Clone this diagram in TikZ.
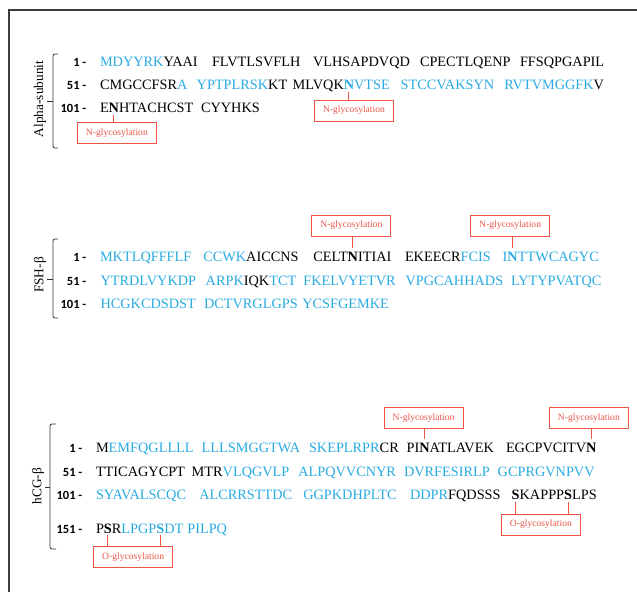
\documentclass[tikz,border=0pt]{standalone}
\usepackage{fontspec}
\setmainfont{Liberation Serif}
\newfontfamily\numfont{Carlito}
\usetikzlibrary{calc}
\definecolor{seqblue}{RGB}{41,171,226}
\definecolor{glycred}{RGB}{236,84,70}
\definecolor{framegray}{RGB}{60,60,60}
\newcommand\seqf{\fontsize{14.3}{17}\selectfont}
\tikzset{
  seq/.style={inner sep=0pt, outer sep=0pt, anchor=base west, font=\seqf},
  blu/.style={seq, text=seqblue},
  blk/.style={seq, text=black},
  bb/.style={font=\seqf\bfseries},
  nm/.style={inner sep=0pt, anchor=base east, font=\numfont\bfseries\fontsize{12.5}{14}\selectfont},
  glyc/.style={draw=glycred, line width=1pt, text=glycred, font=\fontsize{9.6}{11}\selectfont,
    minimum width=79pt, minimum height=21pt, inner sep=0pt},
  link/.style={draw=glycred, line width=1pt},
  grp/.style={inner sep=0pt, rotate=90, font=\fontsize{13.3}{15}\selectfont},
  brace/.style={draw=black!80, line width=0.8pt, rounded corners=2pt},
  frame/.style={draw=framegray, line width=1.3pt}
}
\begin{document}
\begin{tikzpicture}[x=1pt,y=-1pt]
\useasboundingbox (0,0) rectangle (637,592);
\draw[frame] (637,10) -- (9,10) -- (9,592);

% ---------------- Alpha subunit
\node[grp] (la) at (40,99) {Alpha-subunit};
\draw[brace] (58,54) -- (53,54) -- (53,148) -- (58,148);
\draw[brace] (53,101) -- (47,101);
\node[nm] (an1) at (86.5,66) {1 -};
\node[nm] (an2) at (86.5,89.5) {51 -};
\node[nm] (an3) at (86.5,112.5) {101 -};

\node[blu] (a1a) at (100,66) {MDYYRK};
\node[blk] (a1b) at (a1a.base east) {YAAI};
\node[blk] (a1c) at (212,66) {FLVTLSVFLH};
\node[blk] (a1d) at (313,66) {VLHSAPDVQD};
\node[blk] (a1e) at (420,66) {CPECTLQENP};
\node[blk] (a1f) at (520,66) {FFSQPGAPIL};

\node[blk] (a2a) at (100,89.5) {CMGCCFSR};
\node[blu] (a2b) at (a2a.base east) {A};
\node[blu] (a2c) at (196.7,89.5) {YPTPLRSK};
\node[blk] (a2d) at (a2c.base east) {KT};
\node[blk] (a2e) at (292.7,89.5) {MLVQK};
\node[blu,bb] (a2n) at (a2e.base east) {N};
\node[blu] (a2f) at (a2n.base east) {VTSE};
\node[blu] (a2g) at (400.7,89.5) {STCCVAKSYN};
\node[blu] (a2h) at (504.3,89.5) {RVTVMGGFK};
\node[blk] (a2i) at (a2h.base east) {V};

\node[blk] (a3a) at (100,112.5) {E};
\node[blk,bb] (a3n) at (a3a.base east) {N};
\node[blk] (a3b) at (a3n.base east) {HTACHCST};
\node[blk] (a3c) at (201,112.5) {CYYHKS};

\node[glyc] (ga2) at ($(a2n.base)+(5,21)$) {N-glycosylation};
\draw[link] ([yshift=-2pt]a2n.south) -- (a2n.south |- ga2.north);
\node[glyc] (ga3) at ($(a3n.base)+(3,20.5)$) {N-glycosylation};
\draw[link] ([yshift=-2pt]a3n.south) -- (a3n.south |- ga3.north);

% ---------------- FSH beta
\node[grp] (lf) at (40,275) {FSH-β};
\draw[brace] (58,239) -- (53,239) -- (53,318) -- (58,318);
\draw[brace] (53,279) -- (47,279);
\node[nm] (fn1) at (86.5,261.5) {1 -};
\node[nm] (fn2) at (86.5,285) {51 -};
\node[nm] (fn3) at (86.5,308) {101 -};

\node[blu] (f1a) at (100,261.5) {MKTLQFFFLF};
\node[blu] (f1b) at (203.3,261.5) {CCWK};
\node[blk] (f1c) at (f1b.base east) {AICCNS};
\node[blk] (f1d) at (313.3,261.5) {CELT};
\node[blk,bb] (f1n) at (f1d.base east) {N};
\node[blk] (f1e) at (f1n.base east) {ITIAI};
\node[blk] (f1f) at (405,261.5) {EKEECR};
\node[blu] (f1g) at (f1f.base east) {FCIS};
\node[blu] (f1h) at (502.7,261.5) {I};
\node[blu,bb] (f1m) at (f1h.base east) {N};
\node[blu] (f1i) at (f1m.base east) {TTWCAGYC};

\node[blu] (f2a) at (100.5,285) {YTRDLVYKDP};
\node[blu] (f2b) at (205.7,285) {ARPK};
\node[blk] (f2c) at (f2b.base east) {IQK};
\node[blu] (f2d) at (f2c.base east) {TCT};
\node[blu] (f2e) at (303.3,285) {FKELVYETVR};
\node[blu] (f2f) at (405.5,285) {VPGCAHHADS};
\node[blu] (f2g) at (511,285) {LYTYPVATQC};

\node[blu] (f3a) at (100.5,308) {HCGKCDSDST};
\node[blu] (f3b) at (204,308) {DCTVRGLGPS};
\node[blu] (f3c) at (302.3,308) {YCSFGEMKE};

\node[glyc] (gf1) at ($(f1n.base)+(-1.5,-36)$) {N-glycosylation};
\draw[link] ([yshift=4pt]f1n.north) -- (f1n.north |- gf1.south);
\node[glyc] (gf2) at ($(f1m.base)+(-2.5,-36)$) {N-glycosylation};
\draw[link] ([yshift=4pt]f1m.north) -- (f1m.north |- gf2.south);

% ---------------- hCG beta
\node[grp] (lh) at (38,486) {hCG-β};
\draw[brace] (56,424) -- (50,424) -- (50,549) -- (56,549);
\draw[brace] (50,487) -- (45,487);
\node[nm] (hn1) at (82.5,452) {1 -};
\node[nm] (hn2) at (82.5,476) {51 -};
\node[nm] (hn3) at (82.5,499.5) {101 -};
\node[nm] (hn4) at (82.5,533) {151 -};

\node[blk] (h1a) at (96,452) {M};
\node[blu] (h1b) at (h1a.base east) {EMFQGLLLL};
\node[blu] (h1c) at (201.7,452) {LLLSMGGTWA};
\node[blu] (h1d) at (309,452) {SKEPLRPR};
\node[blk] (h1e) at (h1d.base east) {CR};
\node[blk] (h1f) at (406.7,452) {PI};
\node[blk,bb] (h1n) at (h1f.base east) {N};
\node[blk] (h1g) at (h1n.base east) {ATLAVEK};
\node[blk] (h1h) at (506,452) {EGCPVCITV};
\node[blk,bb] (h1m) at (h1h.base east) {N};

\node[blk] (h2a) at (96,476) {TTICAGYCPT};
\node[blk] (h2b) at (191.7,476) {MTR};
\node[blu] (h2c) at (h2b.base east) {VLQGVLP};
\node[blu] (h2d) at (298.3,476) {ALPQVVCNYR};
\node[blu] (h2e) at (404,476) {DVRFESIRLP};
\node[blu] (h2f) at (497.7,476) {GCPRGVNPVV};

\node[blu] (h3a) at (96,499.5) {SYAVALSCQC};
\node[blu] (h3b) at (199.3,499.5) {ALCRRSTTDC};
\node[blu] (h3c) at (303.3,499.5) {GGPKDHPLTC};
\node[blu] (h3d) at (410,499.5) {DDPR};
\node[blk] (h3e) at (h3d.base east) {FQDSSS};
\node[blk,bb] (h3s) at (511.7,499.5) {S};
\node[blk] (h3f) at (h3s.base east) {KAPPP};
\node[blk,bb] (h3t) at (h3f.base east) {S};
\node[blk] (h3g) at (h3t.base east) {LPS};

\node[blk] (h4a) at (96,533) {P};
\node[blk,bb] (h4s) at (h4a.base east) {S};
\node[blk] (h4b) at (h4s.base east) {R};
\node[blu] (h4c) at (h4b.base east) {LPGP};
\node[blu,bb] (h4t) at (h4c.base east) {S};
\node[blu] (h4d) at (h4t.base east) {DT};
\node[blu] (h4e) at (187.3,533) {PILPQ};

\node[glyc] (gh1) at ($(h1n.base)+(-1,-34)$) {N-glycosylation};
\draw[link] ([yshift=4pt]h1n.north) -- (h1n.north |- gh1.south);
\node[glyc] (gh2) at ($(h1m.base)+(-2.5,-34)$) {N-glycosylation};
\draw[link] ([yshift=4pt]h1m.north) -- (h1m.north |- gh2.south);

\node[glyc] (go3) at ($(h3s.base)!0.5!(h3t.base)+(-1,25)$) {O-glycosylation};
\draw[link] ([yshift=-2pt]h3s.south) -- (h3s.south |- go3.north);
\draw[link] ([yshift=-2pt]h3t.south) -- (h3t.south |- go3.north);
\node[glyc] (go4) at ($(h4s.base)!0.5!(h4t.base)+(-1,24)$) {O-glycosylation};
\draw[link] ([yshift=-2pt]h4s.south) -- (h4s.south |- go4.north);
\draw[link] ([yshift=-2pt]h4t.south) -- (h4t.south |- go4.north);
\end{tikzpicture}
\end{document}
